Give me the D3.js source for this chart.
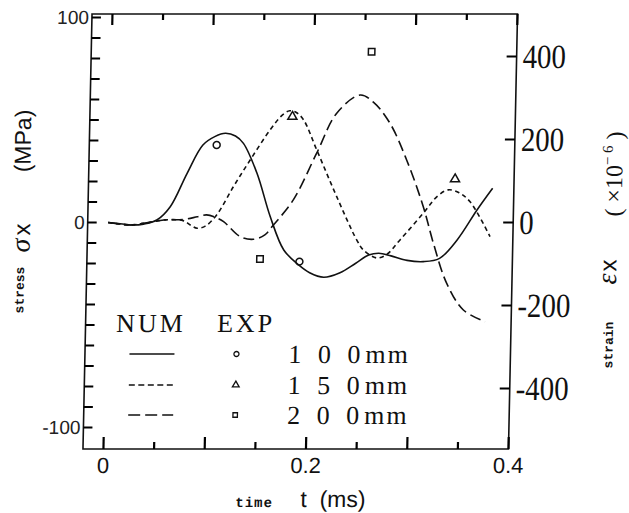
<!DOCTYPE html>
<html>
<head>
<meta charset="utf-8">
<script src="https://cdn.jsdelivr.net/npm/d3@7"></script>
<style>
  body { margin: 0; background: #fff; }
  svg { display: block; }
  .sans { font-family: "Liberation Sans", Arial, sans-serif; }
  .serif { font-family: "Liberation Serif", "Times New Roman", serif; }
  .mono { font-family: "Liberation Mono", "Courier New", monospace; font-weight: bold; }
</style>
</head>
<body>
<svg id="chart" width="629" height="513"></svg>
<script>
// ---- axis ticks ----
const timeMajorTicks = [0, 0.1, 0.2, 0.3, 0.4];
const timeMinorTicks = [0.05, 0.15, 0.25, 0.35];
const timeTickLabels = [0, 0.2, 0.4];
const stressTicks = d3.range(-100, 101, 10);
const stressTickLabels = [100, 0, -100];
const strainTicks = [-400, -200, 0, 200, 400];

// ---- series ----
const gaugeNames = ["100mm", "150mm", "200mm"];
const gaugeDigits = ["1 0 0", "1 5 0", "2 0 0"];

// numerical results: [time (ms), stress (MPa)]
const num100 = [
  [0, 0], [0.01, -0.5], [0.022, -1.2], [0.035, -0.8], [0.048, 1.2], [0.061, 7.7],
  [0.077, 24], [0.092, 37.8], [0.104, 42], [0.114, 43.5], [0.124, 42.2], [0.132, 38.6],
  [0.146, 24], [0.16, 2.8], [0.174, -13.4], [0.189, -20.7], [0.2, -24.5], [0.214, -26.7],
  [0.23, -24.5], [0.245, -20], [0.258, -15.9], [0.268, -15.0], [0.28, -16.3],
  [0.296, -18.5], [0.312, -19.1], [0.328, -17.5], [0.345, -8.5], [0.364, 6.1], [0.379, 16.7]
];
const num150 = [
  [0, 0], [0.022, -1.2], [0.04, 0], [0.055, 1.2], [0.074, 0.9], [0.082, -1.5],
  [0.088, -2.8], [0.096, -1.8], [0.107, 3.7], [0.123, 17.5], [0.139, 30.5], [0.158, 45.1],
  [0.17, 52.5], [0.177, 54.5], [0.184, 53.5], [0.191, 50], [0.2045, 35.4], [0.2252, 12.6],
  [0.2458, -8.5], [0.2526, -13.4], [0.266, -17.3], [0.276, -15.5], [0.2886, -8.5],
  [0.311, 4.5], [0.325, 13], [0.3353, 15.9], [0.346, 14.5], [0.357, 10.1], [0.3774, -6.9]
];
const num200 = [
  [0, 0], [0.022, -1.2], [0.04, 0], [0.055, 1.2], [0.075, 1.5], [0.088, 2.8],
  [0.097, 3.7], [0.106, 2.5], [0.114, 0.4], [0.1307, -6.9], [0.1439, -8.2], [0.155, -6],
  [0.1633, -1.2], [0.1824, 11], [0.2045, 33.8], [0.2235, 53.3], [0.2463, 62.2],
  [0.26, 58.5], [0.2763, 48.4], [0.2935, 30.5], [0.3109, 7.7], [0.3216, -10.1],
  [0.3356, -29.7], [0.3526, -42.7], [0.3742, -48.4]
];

// experimental results: [time (ms), stress (MPa)]
const exp100 = [[0.1056, 37.8], [0.1897, -19.1]];
const exp150 = [[0.1798, 51.6], [0.3417, 21.1]];
const exp200 = [[0.2567, 83.3], [0.1507, -17.8]];

const lineDashes = [null, "4.5,3.5", "11,5"];
const markerShapes = [d3.symbolCircle, d3.symbolTriangle, d3.symbolSquare];

// ---- layout ----
const svg = d3.select("#chart");
const plotLeft = 87.5, plotRight = 513, plotTop = 14, plotBottom = 449;

const x = d3.scaleLinear().domain([-0.0202, 0.4]).range([plotLeft, plotRight]);
const yStress = d3.scaleLinear().domain([-110.5, 101.7]).range([plotBottom, plotTop]);
const yStrain = d3.scaleLinear().domain([-545.8, 502.4]).range([plotBottom, plotTop]);

// the whole figure leans slightly to the right
const midY = (plotTop + plotBottom) / 2;
const g = svg.append("g")
  .attr("transform", `translate(0,${midY}) skewX(-1.19) translate(0,${-midY})`);

const ink = "#111";

// frame
g.append("rect")
  .attr("x", plotLeft).attr("y", plotTop)
  .attr("width", plotRight - plotLeft).attr("height", plotBottom - plotTop)
  .attr("fill", "none").attr("stroke", ink).attr("stroke-width", 1.6);

// inward tick marks as small filled bars
const tickW = 2.2;
const tickG = g.append("g").attr("fill", "#000");
function timeTicks(values, len) {
  tickG.append("g").selectAll("rect").data(values).join("rect")
    .attr("x", d => x(d) - tickW / 2).attr("y", plotBottom - len)
    .attr("width", tickW).attr("height", len);
  tickG.append("g").selectAll("rect").data(values).join("rect")
    .attr("x", d => x(d) - tickW / 2).attr("y", plotTop)
    .attr("width", tickW).attr("height", len - 1);
}
timeTicks(timeMajorTicks, 12);
timeTicks(timeMinorTicks, 7);
tickG.append("g").selectAll("rect").data(stressTicks).join("rect")
  .attr("x", plotLeft).attr("y", d => yStress(d) - tickW / 2)
  .attr("width", 9).attr("height", tickW);
tickG.append("g").selectAll("rect").data(strainTicks).join("rect")
  .attr("x", plotRight - 10).attr("y", d => yStrain(d) - tickW / 2)
  .attr("width", 10).attr("height", tickW);

// tick labels
g.append("g").selectAll("text").data(timeTickLabels).join("text")
  .attr("class", "sans").attr("font-size", 22).attr("fill", ink)
  .attr("text-anchor", "middle")
  .attr("x", d => x(d)).attr("y", plotBottom + 24)
  .text(d => String(d));
g.append("g").selectAll("text").data(stressTickLabels).join("text")
  .attr("class", "sans").attr("font-size", 19).attr("fill", "#222")
  .attr("text-anchor", "end")
  .attr("x", plotLeft - 3).attr("y", d => yStress(d) + 7)
  .text(d => String(d));
g.append("g").selectAll("text").data(strainTicks).join("text")
  .attr("class", "serif")
  .attr("font-size", 34)
  .attr("fill", ink)
  .attr("transform", d => `translate(${plotRight + 6},${yStrain(d) + 11.5}) scale(0.85,1)`)
  .text(d => d < 0 ? "-" + Math.abs(d) : String(d));

// numerical curves
const line = d3.line()
  .x(d => x(d[0]))
  .y(d => yStress(d[1]))
  .curve(d3.curveCatmullRom.alpha(0.5));

[num100, num150, num200].forEach((data, i) => {
  g.append("path")
    .datum(data)
    .attr("d", line)
    .attr("fill", "none")
    .attr("stroke", ink)
    .attr("stroke-width", 1.6)
    .attr("stroke-dasharray", lineDashes[i]);
});

// experimental points
const markerSizes = [38, 36, 42];
[exp100, exp150, exp200].forEach((data, i) => {
  g.append("g").selectAll("path").data(data).join("path")
    .attr("transform", d => `translate(${x(d[0])},${yStress(d[1])})`)
    .attr("d", d3.symbol(markerShapes[i], markerSizes[i]))
    .attr("fill", "none")
    .attr("stroke", ink)
    .attr("stroke-width", 1.5);
});

// legend
const legend = g.append("g");
legend.append("text").attr("class", "serif").attr("font-size", 26)
  .attr("letter-spacing", 3).attr("fill", ink)
  .attr("x", 118).attr("y", 332).text("NUM");
legend.append("text").attr("class", "serif").attr("font-size", 26)
  .attr("letter-spacing", 3).attr("fill", ink)
  .attr("x", 219).attr("y", 332).text("EXP");

const rowBase = [363, 394, 424];
gaugeNames.forEach((name, i) => {
  const cy = rowBase[i] - 9;
  legend.append("line")
    .attr("x1", 132).attr("x2", 177).attr("y1", cy).attr("y2", cy)
    .attr("stroke", ink).attr("stroke-width", 1.5)
    .attr("stroke-dasharray", lineDashes[i] ? (i === 1 ? "6,3.5" : "12,5") : null);
  legend.append("path")
    .attr("transform", `translate(239,${cy})`)
    .attr("d", d3.symbol(markerShapes[i], 20))
    .attr("fill", "none").attr("stroke", ink).attr("stroke-width", 1.3);
  const t = legend.append("text").attr("class", "serif").attr("font-size", 26)
    .attr("fill", ink).attr("x", 291).attr("y", rowBase[i]);
  t.append("tspan").attr("letter-spacing", 5).text(gaugeDigits[i]);
  t.append("tspan").attr("letter-spacing", 2).text("mm");
});

// axis titles
function vtext(cls, size, px, py, str) {
  return g.append("text").attr("class", cls).attr("font-size", size)
    .attr("fill", ink).attr("text-anchor", "middle")
    .attr("transform", `translate(${px},${py}) rotate(-90)`).text(str);
}
vtext("mono", 13, 25, 290, "stress");
const sig = g.append("text").attr("fill", ink).attr("text-anchor", "middle")
  .attr("transform", "translate(30,238) rotate(-90)");
sig.append("tspan").attr("class", "serif").attr("font-style", "italic")
  .attr("font-size", 28).text("σ");
sig.append("tspan").attr("class", "sans").attr("font-size", 24).attr("dx", 3).text("x");
vtext("sans", 23, 29, 141, "(MPa)");

vtext("mono", 13, 615, 345, "strain");
const eps = g.append("text").attr("fill", ink).attr("text-anchor", "middle")
  .attr("transform", "translate(617,272) rotate(-90)");
eps.append("tspan").attr("class", "serif").attr("font-style", "italic")
  .attr("font-size", 28).text("ε");
eps.append("tspan").attr("class", "sans").attr("font-size", 24).attr("dx", 2).text("x");
const unit = g.append("text").attr("class", "serif").attr("fill", ink)
  .attr("text-anchor", "middle").attr("font-size", 24)
  .attr("transform", "translate(621,174) rotate(-90)");
unit.append("tspan").text("( ×10");
unit.append("tspan").attr("font-size", 15).attr("dy", -10).text("− 6");
unit.append("tspan").attr("dy", 10).text(" )");

// time title
g.append("text").attr("class", "mono").attr("font-size", 14).attr("letter-spacing", 1)
  .attr("fill", ink).attr("x", 241).attr("y", 507).text("time");
g.append("text").attr("class", "sans").attr("font-size", 23).attr("fill", ink)
  .attr("x", 306).attr("y", 507).attr("xml:space", "preserve").text("t  (ms)");
</script>
</body>
</html>
